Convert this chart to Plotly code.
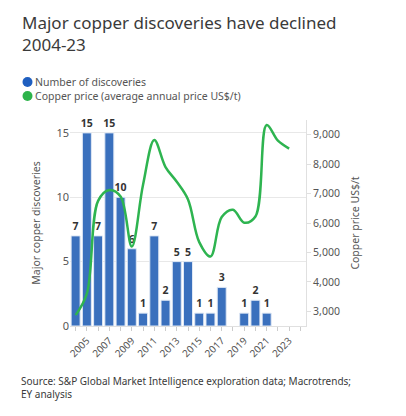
import plotly.graph_objects as go

years = list(range(2004, 2024))
discoveries = [7, 15, 7, 15, 10, 6, 1, 7, 2, 5, 5, 1, 1, 3, None, 1, 2, 1, None, None]
copper_price = [2870, 3600, 6750, 7120, 6900, 5200, 7300, 8820, 7900, 7400, 6800, 5350,
                4860, 6200, 6450, 6010, 6220, 9330, 8800, 8530]

legend_names = ["Number of discoveries", "Copper price (average annual price US$/t)"]
legend_colors = ["#1f5fc0", "#2db34a"]

blue = "#3a70bd"
green = "#2eb450"
grey = "#555555"
fnt = "Noto Sans"

# page body has an 8px margin, so the figure is a bit smaller than the window
OFF = 8
W, H = 406 - OFF, 416 - OFF
L, R, T, B = 70 - OFF, 100, 120 - OFF, 90
pw, ph = W - L - R, H - T - B


def px(x):
    # x in window pixels -> paper fraction
    return (x - OFF - L) / pw


def py(y):
    return (H - B - (y - OFF)) / ph


fig = go.Figure()

fig.add_trace(go.Bar(
    x=years, y=discoveries, width=0.8,
    marker=dict(color=blue, line=dict(color="#dfe8f5", width=1)),
    text=[str(v) if v else "" for v in discoveries],
    textposition="outside", cliponaxis=False, constraintext="none",
    textfont=dict(family=fnt, size=10.5, color="#333333", weight="bold"),
    showlegend=False, hoverinfo="x+y",
))

fig.add_trace(go.Scatter(
    x=years, y=copper_price, yaxis="y2", mode="lines",
    line=dict(color=green, width=2.5, shape="spline", smoothing=1.0),
    showlegend=False,
))

fig.update_layout(
    width=W, height=H,
    margin=dict(l=L, r=R, t=T, b=B, autoexpand=False),
    paper_bgcolor="white", plot_bgcolor="white",
    font=dict(family=fnt, color=grey, size=10),
    showlegend=False,
    xaxis=dict(range=[2003.5, 2024.5], tickmode="linear", tick0=2005, dtick=2,
               tickangle=-45, ticks="outside", ticklen=4, tickcolor="#cccccc",
               minor=dict(tick0=2004, dtick=1, ticks="outside", ticklen=4, tickcolor="#cccccc"),
               showgrid=False, showline=True, linecolor="#e0e0e0",
               tickfont=dict(size=10, color=grey)),
    yaxis=dict(range=[0, 16], tickvals=[0, 5, 10, 15], showgrid=True, gridcolor="#e8e8e8",
               zeroline=False,
               title=dict(text="Major copper discoveries", font=dict(size=10.5, color=grey), standoff=13),
               tickfont=dict(size=11, color=grey)),
    yaxis2=dict(range=[2500, 9500], overlaying="y", side="right",
                tickvals=[3000, 4000, 5000, 6000, 7000, 8000, 9000], tickformat=",",
                showgrid=False, zeroline=False, showline=True, linecolor="#e0e0e0",
                ticks="outside", ticklen=4, tickcolor="#e0e0e0",
                title=dict(text="Copper price US$/t", font=dict(size=10.5, color=grey), standoff=12),
                tickfont=dict(size=10.5, color=grey)),
)

# title, two lines placed separately for the wider line spacing
for txt, yc in [("Major copper discoveries have declined", 22), ("2004-23", 45)]:
    fig.add_annotation(
        text=txt, xref="paper", yref="paper", x=px(20), y=py(yc),
        xanchor="left", yanchor="middle", showarrow=False,
        font=dict(family=fnt, size=17, color="#3a3a3a"),
    )

# legend drawn by hand so the dots sit close to the text
for i, (name, col) in enumerate(zip(legend_names, legend_colors)):
    yc = 82 + i * 14
    fig.add_shape(type="circle", xref="paper", yref="paper",
                  xsizemode="pixel", ysizemode="pixel",
                  xanchor=px(27.5), yanchor=py(yc),
                  x0=-5, x1=5, y0=-5, y1=5,
                  fillcolor=col, line=dict(width=0))
    fig.add_annotation(text=name, xref="paper", yref="paper", x=px(33), y=py(yc),
                       xanchor="left", yanchor="middle", showarrow=False,
                       font=dict(family=fnt, size=10.5, color=grey))

# source
fig.add_annotation(
    text="Source: S&P Global Market Intelligence exploration data; Macrotrends;<br>EY analysis",
    xref="paper", yref="paper", x=px(19), y=py(372), xanchor="left", yanchor="top",
    align="left", showarrow=False, font=dict(family=fnt, size=10, color="#3a3a3a"),
)

fig.write_html("out.html")
